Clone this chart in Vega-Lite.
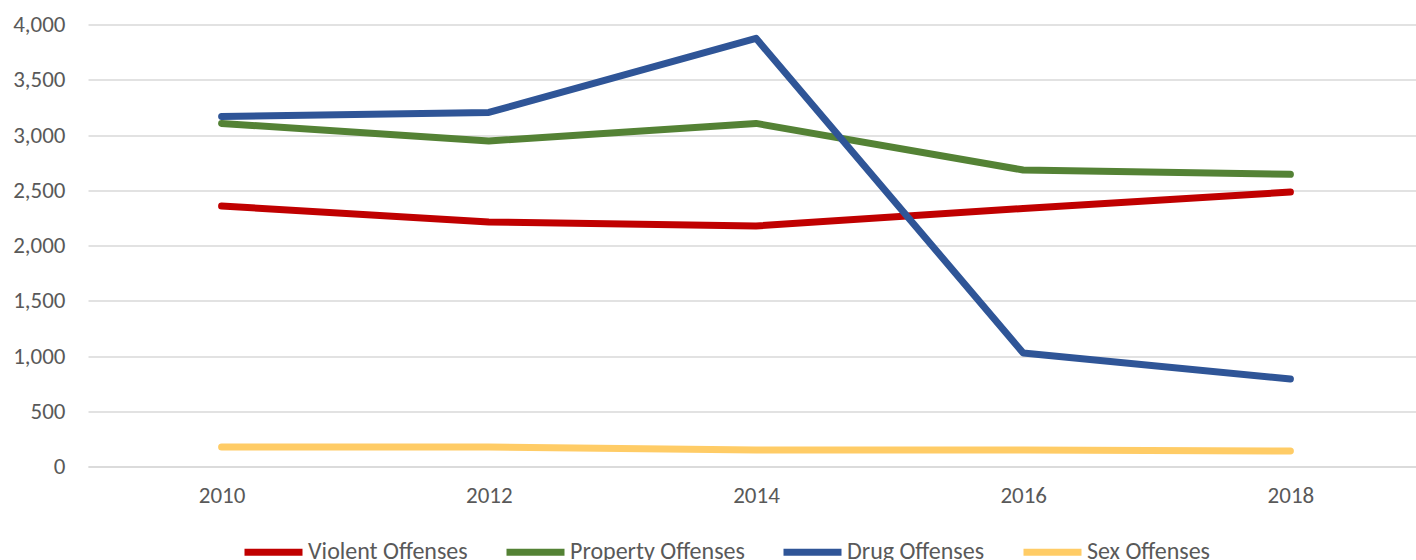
{
  "$schema": "https://vega.github.io/schema/vega-lite/v6.json",
  "width": 1336,
  "height": 442,
  "autosize": "none",
  "padding": {"left": 88, "top": 24.5, "right": 0, "bottom": 93.5},
  "background": "white",
  "config": {
    "view": {"stroke": null},
    "font": "Carlito, Open Sans",
    "axis": {"labelColor": "#595959", "labelFontSize": 23, "gridColor": "#D9D9D9", "gridWidth": 1.5, "domain": false, "ticks": false}
  },
  "data": {"values": [
    {"year": "2010", "series": "Violent Offenses", "value": 2357},
    {"year": "2012", "series": "Violent Offenses", "value": 2213},
    {"year": "2014", "series": "Violent Offenses", "value": 2177},
    {"year": "2016", "series": "Violent Offenses", "value": 2335},
    {"year": "2018", "series": "Violent Offenses", "value": 2484},
    {"year": "2010", "series": "Property Offenses", "value": 3105},
    {"year": "2012", "series": "Property Offenses", "value": 2946},
    {"year": "2014", "series": "Property Offenses", "value": 3105},
    {"year": "2016", "series": "Property Offenses", "value": 2683},
    {"year": "2018", "series": "Property Offenses", "value": 2644},
    {"year": "2010", "series": "Drug Offenses", "value": 3168},
    {"year": "2012", "series": "Drug Offenses", "value": 3204},
    {"year": "2014", "series": "Drug Offenses", "value": 3875},
    {"year": "2016", "series": "Drug Offenses", "value": 1027},
    {"year": "2018", "series": "Drug Offenses", "value": 792},
    {"year": "2010", "series": "Sex Offenses", "value": 176},
    {"year": "2012", "series": "Sex Offenses", "value": 176},
    {"year": "2014", "series": "Sex Offenses", "value": 150},
    {"year": "2016", "series": "Sex Offenses", "value": 149},
    {"year": "2018", "series": "Sex Offenses", "value": 140}
  ]},
  "mark": {"type": "line", "strokeWidth": 7, "strokeCap": "round", "strokeJoin": "round"},
  "encoding": {
    "x": {"field": "year", "type": "ordinal", "title": null,
      "scale": {"type": "point", "padding": 0.5},
      "axis": {"labelAngle": 0, "labelPadding": 18, "grid": false, "domain": true, "domainColor": "#D9D9D9", "domainWidth": 1.5}},
    "y": {"field": "value", "type": "quantitative", "title": null,
      "scale": {"domain": [0, 4000]},
      "axis": {"values": [0, 500, 1000, 1500, 2000, 2500, 3000, 3500, 4000], "format": ",.0f", "labelPadding": 23}},
    "color": {"field": "series", "type": "nominal", "title": null,
      "sort": ["Violent Offenses", "Property Offenses", "Drug Offenses", "Sex Offenses"],
      "scale": {"domain": ["Violent Offenses", "Property Offenses", "Drug Offenses", "Sex Offenses"], "range": ["#C00000", "#548235", "#2F5597", "#FFCC66"]},
      "legend": {"orient": "none", "legendX": 153, "legendY": 495, "direction": "horizontal",
        "symbolType": "stroke", "symbolSize": 3364, "symbolStrokeWidth": 7, "labelLimit": 400,
        "labelFontSize": 24, "labelColor": "#595959", "labelOffset": 2, "columnPadding": 24}}
  }
}
